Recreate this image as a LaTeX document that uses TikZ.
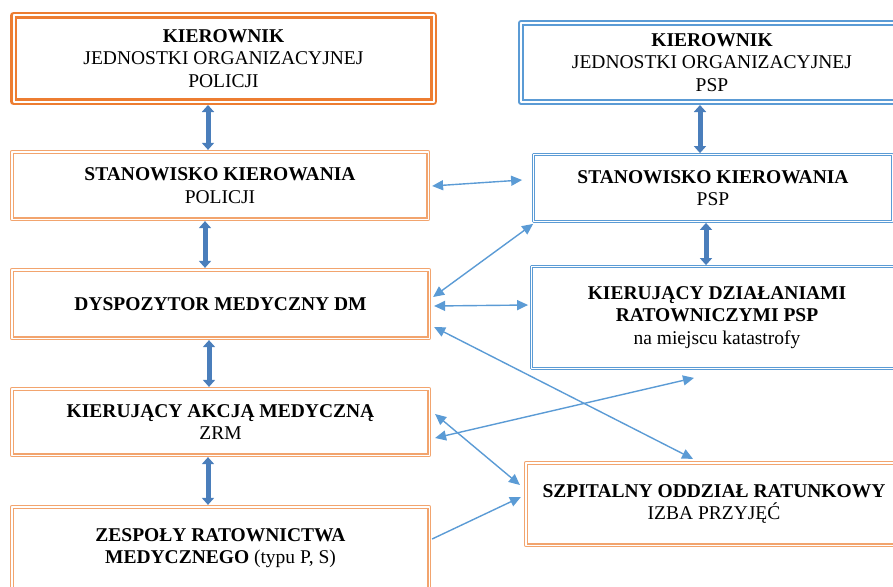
\documentclass[tikz,border=0pt]{standalone}
\usepackage{fontspec}
\setmainfont{Liberation Serif}
\usetikzlibrary{arrows.meta}
\definecolor{pomar}{HTML}{ED7D31}
\definecolor{pomarj}{HTML}{F2A46E}
\definecolor{nieb}{HTML}{5B9BD5}
\definecolor{niebc}{HTML}{4A7EBB}
\begin{document}
\begin{tikzpicture}[x=1pt,y=-1pt,line join=round,font=\fontsize{19.5}{22.5}\selectfont,
	box/.style={rectangle,align=center,fill=white,inner sep=2pt},
	kpbox/.style={box,draw=pomar,line width=2.5pt,double=white,double distance=2pt,outer sep=3.5pt},
	opbox/.style={box,draw=pomarj,line width=1.1pt,double=white,double distance=1.5pt,outer sep=1.85pt},
	kbbox/.style={box,draw=nieb,line width=2pt,double=white,double distance=2pt,outer sep=3pt},
	nbbox/.style={box,draw=nieb,line width=0.9pt,double=white,double distance=1pt,outer sep=1.4pt},
	gruba/.style={draw=niebc,line width=5pt,{Triangle[width=12pt,length=7pt]}-{Triangle[width=12pt,length=7pt]}},
	cienka/.style={draw=nieb,line width=1.4pt,{Triangle[width=10pt,length=11pt]}-{Triangle[width=10pt,length=11pt]}}]
	\useasboundingbox (0,0) rectangle (893,586);
	\clip (0,0) rectangle (893,586);
	\node[kpbox,minimum width=420,minimum height=86] (kp) at (223.5,58.5) {\textbf{KIEROWNIK}\\JEDNOSTKI ORGANIZACYJNEJ\\POLICJI};
	\node[opbox,minimum width=416.5,minimum height=67.5] (skp) at (220,185.5) {\textbf{STANOWISKO KIEROWANIA}\\POLICJI};
	\node[opbox,minimum width=417.5,minimum height=68.5] (dm) at (220.5,304) {\textbf{DYSPOZYTOR MEDYCZNY DM}};
	\node[opbox,minimum width=417.5,minimum height=66.5] (kam) at (220.5,422) {\textbf{KIERUJĄCY AKCJĄ MEDYCZNĄ}\\ZRM};
	\node[opbox,minimum width=417.5,minimum height=82.5] (zrm) at (220.5,548) {\textbf{ZESPOŁY RATOWNICTWA}\\\textbf{MEDYCZNEGO} (typu P, S)};
	\node[kbbox,minimum width=382,minimum height=79] (kpsp) at (712,62.5) {\textbf{KIEROWNIK}\\JEDNOSTKI ORGANIZACYJNEJ\\PSP};
	\node[nbbox,minimum width=359,minimum height=67] (skpsp) at (713,188) {\textbf{STANOWISKO KIEROWANIA}\\PSP};
	\node[nbbox,minimum width=371,minimum height=102] (kdr) at (717,317.5) {\textbf{KIERUJĄCY DZIAŁANIAMI}\\\textbf{RATOWNICZYMI PSP}\\na miejscu katastrofy};
	\node[opbox,minimum width=376.5,minimum height=82.5] (sor) at (714,504) {\textbf{SZPITALNY ODDZIAŁ RATUNKOWY}\\IZBA PRZYJĘĆ};
	\foreach \a/\b/\s in {kp/skp/-15.5,skp/dm/-15,dm/kam/-11.5,kam/zrm/-12.5,kpsp/skpsp/-12,skpsp/kdr/-7}
	\draw[gruba] ([xshift=\s]\a.south) -- ([xshift=\s]\a.south |- \b.north);
	\draw[cienka] ([shift={(2,0.5)}]skp.east) -- ([shift={(-10,-8)}]skpsp.west);
	\draw[cienka] ([shift={(2,-7)}]dm.east) -- ([shift={(1,1)}]skpsp.south west);
	\draw[cienka] ([shift={(3,2)}]dm.east) -- ([shift={(-2,-12.5)}]kdr.west);
	\draw[cienka] ([shift={(3,23)}]dm.east) -- ([shift={(-21,-2)}]sor.north);
	\draw[cienka] ([shift={(4,16)}]kam.east) -- ([shift={(-23,8)}]kdr.south);
	\draw[cienka] ([shift={(4,-8)}]kam.east) -- ([shift={(-4,-19)}]sor.west);
	\draw[cienka,-{Triangle[width=10pt,length=11pt]}] ([shift={(1,-9)}]zrm.east) -- ([shift={(-3,-7)}]sor.west);
\end{tikzpicture}
\end{document}
